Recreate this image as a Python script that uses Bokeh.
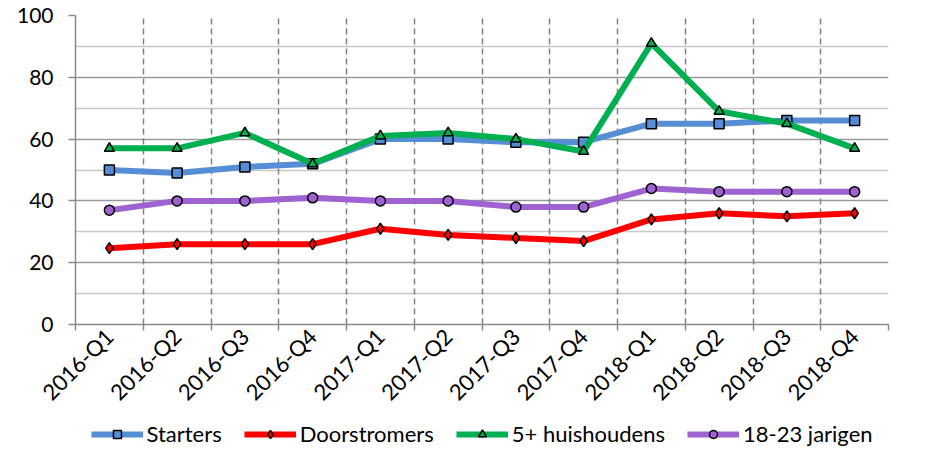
import math
from bokeh.plotting import figure
from bokeh.layouts import column
from bokeh.models import (Range1d, LinearAxis, FixedTicker, Grid, Legend, LegendItem,
                          ColumnDataSource)
from bokeh.embed import file_html
from bokeh.resources import INLINE

quarters = ["2016-Q1", "2016-Q2", "2016-Q3", "2016-Q4",
            "2017-Q1", "2017-Q2", "2017-Q3", "2017-Q4",
            "2018-Q1", "2018-Q2", "2018-Q3", "2018-Q4"]
starters = [50, 49, 51, 52, 60, 60, 59, 59, 65, 65, 66, 66]
doorstromers = [24.7, 26, 26, 26, 31, 29, 28, 27, 34, 36, 35, 36]
huishoudens5 = [57, 57, 62, 52, 61, 62, 60, 56, 91, 69, 65, 57]
jarigen = [37, 40, 40, 41, 40, 40, 38, 38, 44, 43, 43, 43]
y_ticks = [0, 20, 40, 60, 80, 100]

FONT = "Lato"
xs = list(range(len(quarters)))
boundaries = [i - 0.5 for i in range(len(quarters) + 1)]

chart = figure(width=920, height=417, output_backend="svg", toolbar_location=None,
               x_axis_location=None, y_axis_location=None,
               x_range=Range1d(-0.5, len(quarters) - 0.5), y_range=Range1d(0, 100),
               min_border_left=75, min_border_right=32, min_border_top=15, min_border_bottom=93)
chart.outline_line_color = None
chart.grid.visible = False

# y axis
yax = LinearAxis(ticker=FixedTicker(ticks=y_ticks, minor_ticks=[]))
yax.axis_line_color = "#8a8a8a"
yax.axis_line_width = 1.5
yax.major_tick_line_color = "#8a8a8a"
yax.major_tick_line_width = 1.5
yax.major_tick_out = 7
yax.major_tick_in = 0
yax.minor_tick_line_color = None
yax.major_label_text_font = FONT
yax.major_label_text_font_size = "21px"
yax.major_label_text_color = "black"
yax.major_label_standoff = 15
chart.add_layout(yax, "left")

# x axis: labels at category centers, tick marks at category boundaries
xax = LinearAxis(ticker=FixedTicker(ticks=xs, minor_ticks=boundaries))
xax.axis_line_color = "#8a8a8a"
xax.axis_line_width = 1.5
xax.major_tick_line_color = None
xax.minor_tick_line_color = "#8a8a8a"
xax.minor_tick_line_width = 1.5
xax.minor_tick_out = 6
xax.minor_tick_in = 0
xax.major_label_overrides = {i: q for i, q in enumerate(quarters)}
xax.major_label_orientation = math.pi / 4
xax.major_label_text_font = FONT
xax.major_label_text_font_size = "22px"
xax.major_label_text_color = "black"
xax.major_label_standoff = 2
chart.add_layout(xax, "below")

# grids
ygrid = Grid(dimension=1, ticker=FixedTicker(ticks=y_ticks, minor_ticks=list(range(10, 100, 20))))
ygrid.grid_line_color = "#9a9a9a"
ygrid.grid_line_width = 1.5
ygrid.minor_grid_line_color = "#c8c8c8"
ygrid.minor_grid_line_width = 1.5
chart.add_layout(ygrid)

xgrid = Grid(dimension=0, ticker=FixedTicker(ticks=boundaries, minor_ticks=[]))
xgrid.grid_line_color = "#808080"
xgrid.grid_line_width = 1.5
xgrid.grid_line_dash = "6 4"
chart.add_layout(xgrid)

# legend figure (its renderers lie outside its view; only the legend shows)
leg_fig = figure(width=920, height=30, output_backend="svg", toolbar_location=None,
                 x_axis_location=None, y_axis_location=None,
                 x_range=Range1d(-0.5, len(quarters) - 0.5), y_range=Range1d(1000, 1001),
                 min_border_left=0, min_border_right=0, min_border_top=0, min_border_bottom=0)
leg_fig.outline_line_color = None
leg_fig.grid.visible = False

series = [
    ("Starters", starters, "#558ed5", "square", 10),
    ("Doorstromers", doorstromers, "#ff0000", "diamond", 11),
    ("5+ huishoudens", huishoudens5, "#00b050", "triangle", 10),
    ("18-23 jarigen", jarigen, "#9e62d1", "circle", 10),
]
items = []
for name, vals, color, marker, size in series:
    src = ColumnDataSource(dict(x=xs, y=vals))
    for fig in (chart, leg_fig):
        lr = fig.line("x", "y", source=src, line_color=color, line_width=6, line_join="round")
        sr = fig.scatter("x", "y", source=src, marker=marker, size=size, fill_color=color,
                         line_color="black", line_width=1.5)
    items.append(LegendItem(label=name, renderers=[lr, sr]))

legend = Legend(items=items, orientation="horizontal", location="bottom")
legend.label_text_font = FONT
legend.label_text_font_size = "22px"
legend.label_text_color = "black"
legend.glyph_width = 52
legend.glyph_height = 20
legend.label_standoff = 4
legend.spacing = 22
legend.padding = 0
legend.margin = 0
legend.border_line_color = None
legend.background_fill_alpha = 0
leg_fig.add_layout(legend, "center")

p = column(chart, leg_fig, spacing=0)
open("out.html", "w").write(file_html(p, INLINE))
